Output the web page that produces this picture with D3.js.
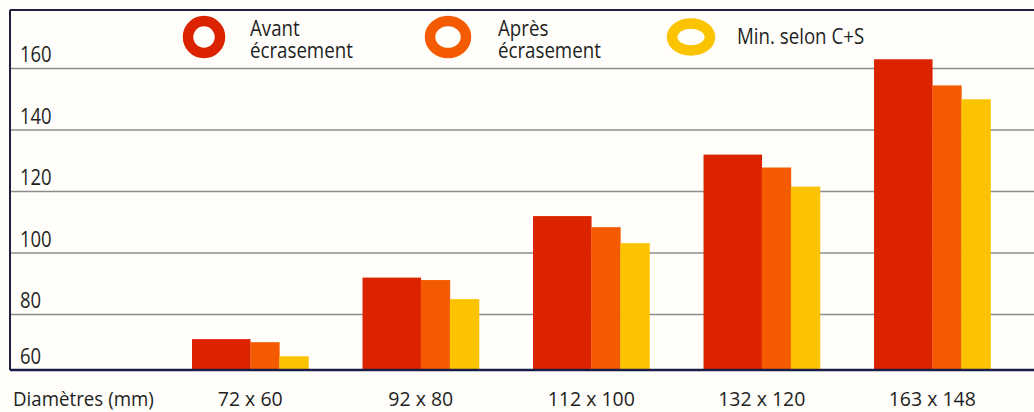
<!DOCTYPE html>
<html>
<head>
<meta charset="utf-8">
<script src="https://cdn.jsdelivr.net/npm/d3@7"></script>
<style>
  html, body { margin: 0; padding: 0; background: #fffefa; }
  svg { display: block; }
  text { font-family: "Open Sans", "Noto Sans", sans-serif; fill: #1e1e1e; }
</style>
</head>
<body>
<svg id="chart" width="1034" height="412"></svg>
<script>
// ---- data ----
const categories = ["72 x 60", "92 x 80", "112 x 100", "132 x 120", "163 x 148"];
const avant = [72, 92, 112, 132, 163];
const apres = [71, 91.2, 108.4, 127.8, 154.5];
const minCS = [66.4, 85, 103.2, 121.6, 150];
const seriesNames = [["Avant", "écrasement"], ["Après", "écrasement"], ["Min. selon C+S"]];
const yTicks = [60, 80, 100, 120, 140, 160];
const axisTitle = "Diamètres (mm)";

// ---- layout ----
const W = 1034, H = 412;
const frameLeft = 10, frameTop = 10, plotBottom = 370;
const colors = ["#dc2300", "#f45a00", "#fcc400"];

const svg = d3.select("#chart");
svg.append("rect").attr("width", W).attr("height", H).attr("fill", "#fffefa");

const y = d3.scaleLinear().domain([60, 160]).range([376, 68.5]);
const x = d3.scaleBand().domain(categories).range([192, 990.5]).paddingInner(0.317).paddingOuter(0);

// gridlines
const gridTicks = yTicks.filter(t => y(t) < plotBottom);
svg.append("g").selectAll("line").data(gridTicks).join("line")
  .attr("x1", frameLeft).attr("x2", W)
  .attr("y1", d => y(d)).attr("y2", d => y(d))
  .attr("stroke", "#8c8c8c").attr("stroke-width", 1.5);

// tick labels
svg.append("g").selectAll("text").data(yTicks).join("text")
  .attr("transform", d => `translate(20,${Math.min(y(d), plotBottom) - 6.5}) scale(0.84,1)`)
  .attr("font-size", 22)
  .text(d => d);

// bars
const series = [avant, apres, minCS];
const bw = x.bandwidth();
const offsets = [0, bw / 2, bw * 3 / 4];
const widths = [bw / 2, bw / 4, bw / 4];
series.forEach((vals, si) => {
  svg.append("g").selectAll("rect").data(categories).join("rect")
    .attr("x", (c) => x(c) + offsets[si])
    .attr("width", widths[si] + 0.3)
    .attr("y", (c, i) => y(vals[i]))
    .attr("height", (c, i) => plotBottom - y(vals[i]))
    .attr("fill", colors[si]);
});

// frame
svg.append("line").attr("x1", frameLeft).attr("x2", W).attr("y1", frameTop).attr("y2", frameTop)
  .attr("stroke", "#1d1f3c").attr("stroke-width", 2);
svg.append("line").attr("x1", frameLeft).attr("x2", frameLeft).attr("y1", frameTop).attr("y2", plotBottom)
  .attr("stroke", "#1d1f3c").attr("stroke-width", 2);
svg.append("line").attr("x1", frameLeft).attr("x2", W).attr("y1", plotBottom).attr("y2", plotBottom)
  .attr("stroke", "#1a1d48").attr("stroke-width", 2.5);

// category labels
svg.append("g").selectAll("text").data(categories).join("text")
  .attr("x", d => x(d) + bw / 2).attr("y", 406)
  .attr("text-anchor", "middle").attr("font-size", 19.5)
  .text(d => d);
svg.append("text").attr("transform", "translate(13,406) scale(0.96,1)").attr("font-size", 19.5).text(axisTitle);

// legend
const legX = [204, 448, 691];
const legTextX = [250, 498, 737];
const ringR = [[16, 16], [18, 16], [19, 13.5]];
const leg = svg.append("g");
seriesNames.forEach((lines, i) => {
  leg.append("ellipse").attr("cx", legX[i]).attr("cy", 37)
    .attr("rx", ringR[i][0]).attr("ry", ringR[i][1])
    .attr("fill", "none").attr("stroke", colors[i]).attr("stroke-width", 10.5);
  const baseY = lines.length === 2 ? 35.5 : 43.5;
  const t = leg.append("text")
    .attr("transform", `translate(${legTextX[i]},${baseY}) scale(0.85,1)`)
    .attr("font-size", 22);
  lines.forEach((ln, j) => {
    t.append("tspan").attr("x", 0).attr("y", j * 22.5).text(ln);
  });
});
</script>
</body>
</html>
